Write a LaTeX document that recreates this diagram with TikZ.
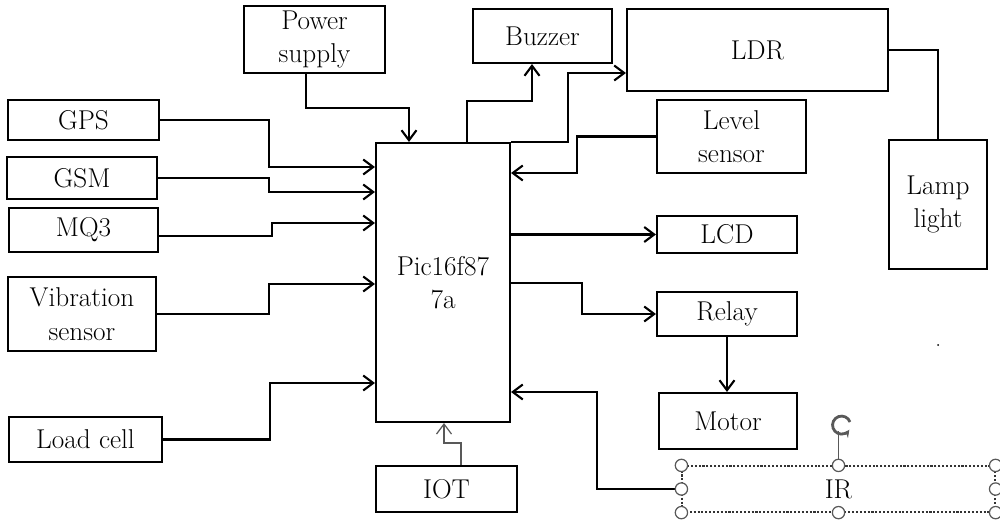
\documentclass[tikz,border=0pt]{standalone}
\usetikzlibrary{arrows.meta}
\begin{document}
\begin{tikzpicture}[x=0.02cm,y=-0.02cm,box/.style={draw,line width=1.2pt,align=center,inner sep=0pt,font=\fontsize{15.5}{19}\selectfont},arr/.style={-{Straight Barb[length=2mm,width=3mm]},line width=1.2pt},handle/.style={draw=gray!70!black,fill=white,line width=0.7pt,circle,inner sep=0pt,minimum size=7pt}]
\useasboundingbox (0,0) rectangle (1000,525);
% inputs on the left
\node[box,minimum width=3.02cm,minimum height=0.8cm] (gps) at (83.5,120) {GPS};
\node[box,minimum width=3cm,minimum height=0.84cm] (gsm) at (82,178) {GSM};
\node[box,minimum width=2.98cm,minimum height=0.88cm] (mq) at (83.5,230) {MQ3};
\node[box,minimum width=2.96cm,minimum height=1.48cm] (vib) at (82,314) {Vibration\\sensor};
\node[box,minimum width=3.06cm,minimum height=0.9cm] (load) at (85.5,439.5) {Load cell};
\node[box,minimum width=2.82cm,minimum height=1.34cm] (ps) at (314.5,39.5) {Power\\supply};
% controller
\node[box,minimum width=2.68cm,minimum height=5.58cm,font=\fontsize{15.5}{19}\selectfont] (pic) at (443,282.5) {Pic16f87\\7a};
\node[box,minimum width=2.82cm,minimum height=0.92cm] (iot) at (446.5,489) {IOT};
% outputs on the right
\node[box,minimum width=2.78cm,minimum height=1.08cm] (buz) at (542.5,36) {Buzzer};
\node[box,minimum width=5.22cm,minimum height=1.64cm] (ldr) at (757.5,50) {LDR};
\node[box,minimum width=2.98cm,minimum height=1.46cm] (lvl) at (731.5,136.5) {Level\\sensor};
\node[box,minimum width=1.96cm,minimum height=2.58cm] (lamp) at (938,204.5) {Lamp\\light};
\node[box,minimum width=2.8cm,minimum height=0.74cm] (lcd) at (727,234.5) {LCD};
\node[box,minimum width=2.8cm,minimum height=0.88cm] (relay) at (727,314) {Relay};
\node[box,minimum width=2.76cm,minimum height=1.12cm] (motor) at (728,421) {Motor};
\node[box,draw=black!80,densely dotted,line width=0.7pt,minimum width=6.26cm,minimum height=0.92cm] (ir) at (838.5,489) {IR};
% connectors
\draw[arr] (gps.east) -| (269,167) -- (pic.west |- 0,167);
\draw[arr] (gsm.east) -| (269,192) -- (pic.west |- 0,192);
\draw[arr] (mq.east |- 0,236) -| (272,223) -- (pic.west |- 0,223);
\draw[arr] (vib.east) -| (269,284) -- (pic.west |- 0,284);
\draw[arr] (load.east) -| (270,383) -- (pic.west |- 0,383);
\draw[arr] (ps.south -| 306,0) |- (409,108) -- (pic.north -| 409,0);
\draw[arr] (pic.north -| 467,0) |- (532,101) -- (buz.south -| 532,0);
\draw[arr] (pic.north east) -| (568,73) -- (ldr.west |- 0,73);
\draw[arr] (lvl.west) -| (577,173) -- (pic.east |- 0,173);
\draw[arr] (pic.east |- lcd.west) -- (lcd.west);
\draw[arr] (pic.east |- 0,283) -| (582,314) -- (relay.west);
\draw[arr] (relay.south) -- (motor.north -| relay.south);
\draw[arr] (ir.west) -| (597,392) -- (pic.east |- 0,392);
\draw[arr,line width=0.7pt,draw=gray!70!black] (iot.north -| 461,0) |- (444,443) -- (pic.south -| 444,0);
\draw[line width=1.2pt] (ldr.east) -| (lamp.north);
% selection handles round IR
\draw[gray!70!black,line width=0.7pt] (ir.north) -- ++(0,-34);
\draw[gray!70!black,line width=1.6pt,-{Stealth[length=1.6mm]}] (850,422) arc[start angle=-20,end angle=-330,radius=9];
\foreach \a in {north west,north,north east,west,east,south west,south,south east}
  \node[handle] at (ir.\a) {};
\fill (938,345) circle[radius=1];
\end{tikzpicture}
\end{document}
